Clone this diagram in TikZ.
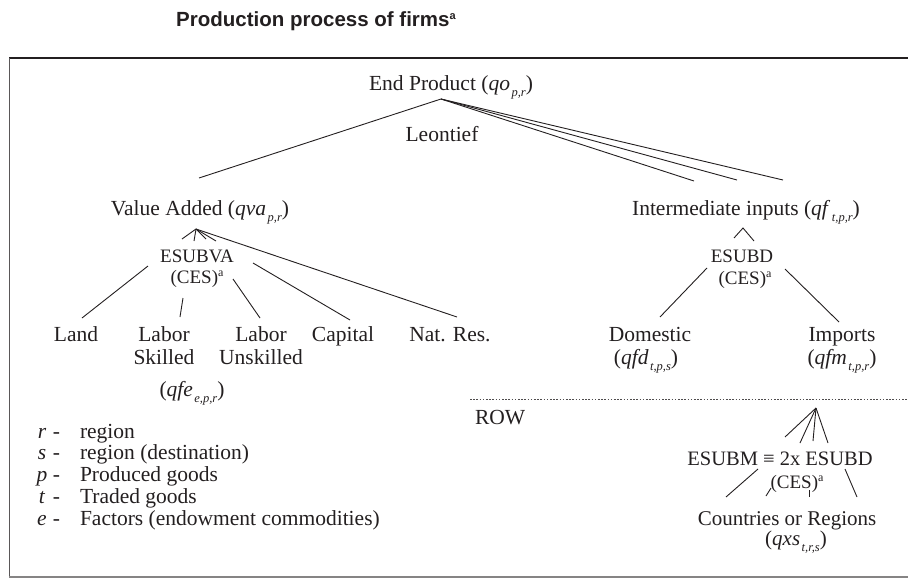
\documentclass[tikz,border=0pt]{standalone}
\usepackage{fontspec}
\setmainfont{Liberation Serif}
\newfontfamily\titlesans{Liberation Sans}
\definecolor{ink}{RGB}{35,31,32}
\newcommand\sbsc[1]{\hspace{1.5pt}\raisebox{-6pt}{\fontsize{12.5}{12.5}\selectfont\itshape #1}}
\newcommand\supa{\raisebox{6.5pt}{\fontsize{12}{12}\selectfont a}}
\begin{document}
\begin{tikzpicture}[x=1pt,y=-1pt,
  lbl/.style={inner sep=0pt, outer sep=0pt, anchor=base, text=ink, font=\fontsize{21.5}{23}\selectfont},
  esub/.style={lbl, font=\fontsize{19}{21}\selectfont},
  conn/.style={draw=ink, line width=0.9pt},
  dotline/.style={draw=ink!80, line width=0.6pt, dash pattern=on 1.6pt off 1.6pt},
  framepen/.style={draw=ink!75, line width=0.9pt}]
\useasboundingbox (0,0) rectangle (908,581);
% frame
\coordinate (fTR) at (908,58);
\coordinate (fTL) at (9,58);
\coordinate (fBL) at (9,577);
\coordinate (fBR) at (908,577);
\draw[framepen, draw=ink, line width=1.1pt] (fTL) -- (fTR);
\draw[framepen] (fTL) -- (fBL);
\draw[framepen, draw=ink!55, line width=1.2pt] (fBL) -- (fBR);
% title
\node[anchor=base west, inner sep=0pt, text=ink, font=\titlesans\bfseries\fontsize{20.5}{22}\selectfont] (title) at (176,26)
  {Production process of firms\raisebox{7pt}{\fontsize{11}{11}\selectfont a}};
% labels
\node[lbl] (endp) at (451,90) {End Product (\textit{qo}\sbsc{p,r})};
\node[lbl] (leon) at (442,141) {Leontief};
\node[lbl] (va) at (200,215) {Value Added (\textit{qva}\sbsc{p,r})};
\node[lbl] (ii) at (746,215) {Intermediate inputs (\textit{qf}\sbsc{t,p,r})};
\node[esub] (esubva) at (197,262) {ESUBVA};
\node[esub] (cesva) at (197,283) {(CES)\supa};
\node[esub] (esubd) at (742,262) {ESUBD};
\node[esub] (cesd) at (745,284) {(CES)\supa};
\node[lbl] (land) at (76,341) {Land};
\node[lbl] (labsa) at (164,341) {Labor};
\node[lbl] (labsb) at (164,364) {Skilled};
\node[lbl] (labua) at (261,341) {Labor};
\node[lbl] (labub) at (261,364) {Unskilled};
\node[lbl] (capt) at (343,341) {Capital};
\node[lbl] (natr) at (450,341) {Nat. Res.};
\node[lbl] (qfe) at (192,396) {(\textit{qfe}\sbsc{e,p,r})};
\node[lbl] (dom) at (650,341) {Domestic};
\node[lbl] (qfd) at (646,364) {(\textit{qfd}\sbsc{t,p,s})};
\node[lbl] (imp) at (842,341) {Imports};
\node[lbl] (qfm) at (842,364) {(\textit{qfm}\sbsc{t,p,r})};
\node[lbl, anchor=base west] (row) at (475,424) {ROW};
\node[lbl, font=\fontsize{20.5}{22}\selectfont] (esubm) at (780,465) {ESUBM ≡ 2x ESUBD};
\node[esub] (cesm) at (797,488) {(CES)\supa};
\node[lbl, font=\fontsize{21}{22}\selectfont] (ctry) at (787,525) {Countries or Regions};
\node[lbl, font=\fontsize{21}{22}\selectfont] (qxs) at (796,545) {(\textit{qxs}\sbsc{t,r,s})};
% legend
\foreach \i/\l/\t [count=\k from 0] in {r/r/region, s/s/region (destination), p/p/Produced goods, t/t/Traded goods, e/e/Factors (endowment commodities)}{
  \node[lbl] (legk\i) at (42,438+21.75*\k) {\textit{\l}};
  \node[lbl] (legd\i) at (56.5,438+21.75*\k) {-};
  \node[lbl, anchor=base west] (legt\i) at (80,438+21.75*\k) {\t};
}
% dotted separator
\coordinate (dotL) at (470,399);
\coordinate (dotR) at (908,399);
\draw[dotline] (dotL) -- (dotR);
% top level (Leontief)
\coordinate (a0) at (441,99);
\coordinate (a0a) at (199,178);
\coordinate (a0b) at (694,181);
\coordinate (a0c) at (737,180);
\coordinate (a0d) at (783,180);
\foreach \c in {a0a,a0b,a0c,a0d} \draw[conn] (a0) -- (\c);
% value added
\coordinate (va0) at (196,229);
\coordinate (va1) at (182,239);
\coordinate (va2) at (194,241);
\coordinate (va3) at (206,239);
\coordinate (va4) at (216,241);
\coordinate (va5) at (457,317);
\foreach \c in {va1,va2,va3,va4,va5} \draw[conn] (va0) -- (\c);
\coordinate (ld1) at (148,266); \coordinate (ld2) at (82,318);
\coordinate (ls1) at (183,298); \coordinate (ls2) at (180,317);
\coordinate (lu1) at (233,279); \coordinate (lu2) at (260,318);
\coordinate (cp1) at (253,263); \coordinate (cp2) at (350,320);
\draw[conn] (ld1) -- (ld2);
\draw[conn] (ls1) -- (ls2);
\draw[conn] (lu1) -- (lu2);
\draw[conn] (cp1) -- (cp2);
% intermediate
\coordinate (ii0) at (743,228);
\coordinate (ii1) at (734,238);
\coordinate (ii2) at (754,241);
\draw[conn] (ii1) -- (ii0) -- (ii2);
\coordinate (dm1) at (707,268); \coordinate (dm2) at (660,317);
\coordinate (im1) at (785,269); \coordinate (im2) at (839,322);
\draw[conn] (dm1) -- (dm2);
\draw[conn] (im1) -- (im2);
% ROW
\coordinate (rw0) at (816,408);
\coordinate (rw1) at (785,437);
\coordinate (rw2) at (800,443);
\coordinate (rw3) at (813,441);
\coordinate (rw4) at (828,443);
\foreach \c in {rw1,rw2,rw3,rw4} \draw[conn] (rw0) -- (\c);
\coordinate (cr1) at (758,469); \coordinate (cr2) at (726,497);
\coordinate (cr3) at (771,488); \coordinate (cr4) at (766,496);
\coordinate (cr5) at (809,490); \coordinate (cr6) at (809,497);
\coordinate (cr7) at (845,469); \coordinate (cr8) at (857,497);
\draw[conn] (cr1) -- (cr2);
\draw[conn] (cr3) -- (cr4);
\draw[conn] (cr5) -- (cr6);
\draw[conn] (cr7) -- (cr8);
\end{tikzpicture}
\end{document}
